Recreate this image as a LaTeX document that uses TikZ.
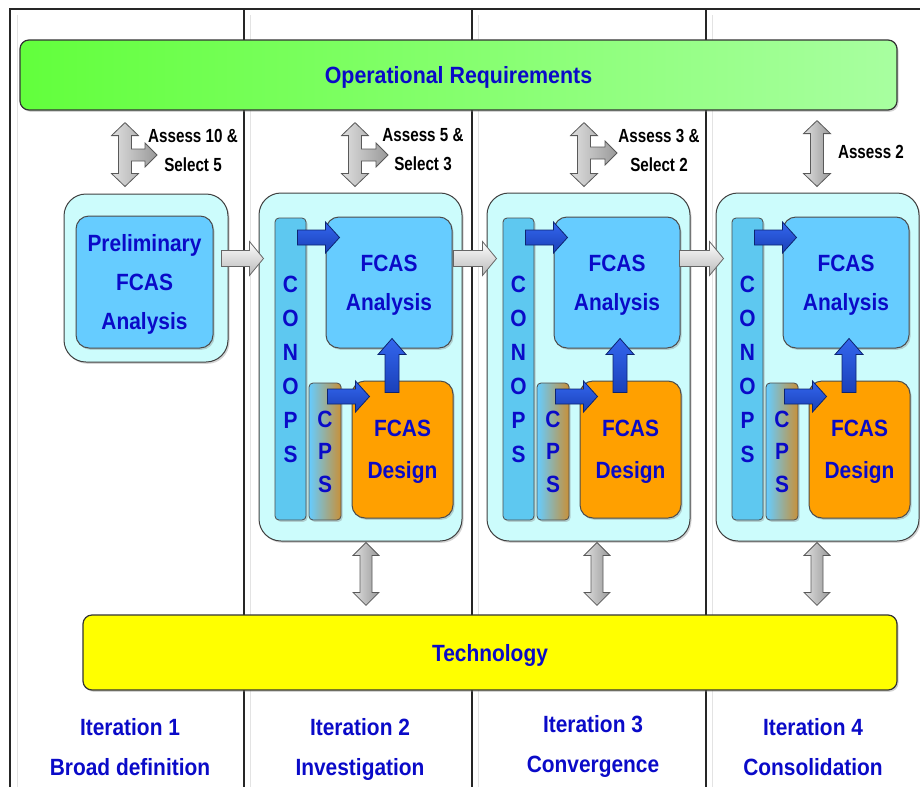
\documentclass[tikz,border=0pt]{standalone}
\usepackage{fontspec}
\setmainfont{Liberation Sans}
\newfontfamily\bluefont{Liberation Sans}[FakeStretch=0.89]
\newfontfamily\opfont{Liberation Sans}[FakeStretch=0.91]
\newfontfamily\narrowfont{Liberation Sans}[FakeStretch=0.8]
\usetikzlibrary{calc,shadows}
\definecolor{txtblue}{RGB}{10,10,200}
\definecolor{grpcyan}{HTML}{CCFCFC}
\definecolor{anablue}{HTML}{66CCFF}
\definecolor{conblue}{HTML}{5EC8F0}
\definecolor{desorange}{HTML}{FFA000}
\definecolor{cpsbrown}{HTML}{C89038}
\definecolor{greenL}{HTML}{62FF3C}
\definecolor{greenR}{HTML}{A8FFA0}
\definecolor{barYellow}{HTML}{FFFF00}
\definecolor{arrBlueT}{HTML}{3366EE}
\definecolor{arrBlueB}{HTML}{1A40B8}
\definecolor{arrBlueD}{HTML}{0C2470}
% rightward block arrow: style, from (x used), to (tip), body half, head half, head length
\newcommand\rblk[6]{\path[#1] let \p1=(#2), \p2=(#3) in
 (\x1,\y2+#4pt) -- (\x2-#6pt,\y2+#4pt) -- (\x2-#6pt,\y2+#5pt) -- (\x2,\y2) --
 (\x2-#6pt,\y2-#5pt) -- (\x2-#6pt,\y2-#4pt) -- (\x1,\y2-#4pt) -- cycle;}
% upward block arrow: style, from (bottom, y used), to (tip)
\newcommand\ublk[6]{\path[#1] let \p1=(#2), \p2=(#3) in
 (\x2-#4pt,\y1) -- (\x2-#4pt,\y2-#6pt) -- (\x2-#5pt,\y2-#6pt) -- (\x2,\y2) --
 (\x2+#5pt,\y2-#6pt) -- (\x2+#4pt,\y2-#6pt) -- (\x2+#4pt,\y1) -- cycle;}
% vertical double block arrow: style, top, bottom, body half, head half, head length
\newcommand\dblk[6]{\path[#1] let \p1=(#2), \p2=(#3) in
 (\x1,\y1) -- (\x1+#5pt,\y1-#6pt) -- (\x1+#4pt,\y1-#6pt) -- (\x1+#4pt,\y2+#6pt) --
 (\x1+#5pt,\y2+#6pt) -- (\x1,\y2) -- (\x1-#5pt,\y2+#6pt) -- (\x1-#4pt,\y2+#6pt) --
 (\x1-#4pt,\y1-#6pt) -- (\x1-#5pt,\y1-#6pt) -- cycle;}
% T-shaped arrow: style, top, bottom, branch tip
\newcommand\tblk[4]{\path[#1] let \p1=(#2), \p2=(#3), \p3=(#4) in
 (\x1,\y1) -- (\x1+13.5pt,\y1-13pt) -- (\x1+6.5pt,\y1-13pt) -- (\x1+6.5pt,\y3+6pt) --
 (\x3-12pt,\y3+6pt) -- (\x3-12pt,\y3+12pt) -- (\x3,\y3) -- (\x3-12pt,\y3-12pt) --
 (\x3-12pt,\y3-6pt) -- (\x1+6.5pt,\y3-6pt) -- (\x1+6.5pt,\y2+13pt) -- (\x1+13.5pt,\y2+13pt) --
 (\x1,\y2) -- (\x1-13.5pt,\y2+13pt) -- (\x1-6.5pt,\y2+13pt) -- (\x1-6.5pt,\y1-13pt) --
 (\x1-13.5pt,\y1-13pt) -- cycle;}
\begin{document}
\begin{tikzpicture}[x=1pt,y=-1pt,
 shd/.style={drop shadow={shadow xshift=1.5pt,shadow yshift=-1.8pt,opacity=0.35}},
 bar/.style={draw=black!80,line width=1.2pt,rounded corners=9pt,inner sep=0pt,shd},
 grp/.style={draw=black!75,line width=1pt,fill=grpcyan,rounded corners=22pt,inner sep=0pt,shd},
 inbox/.style={draw=black!70,line width=1pt,rounded corners=13pt,inner sep=0pt,shd},
 strip/.style={draw=black!70,line width=0.8pt,rounded corners=4pt,inner sep=0pt,shd},
 bluetxt/.style={text=txtblue,font=\bluefont\bfseries\fontsize{23.5}{39}\selectfont,align=center,text depth=0pt},
 lbl/.style={text=black,font=\narrowfont\bfseries\fontsize{19}{29}\selectfont,align=center},
 grayh/.style={draw=black!60,line width=0.8pt,top color=white,bottom color=gray!55},
 grayv/.style={draw=black!65,line width=0.8pt,left color=gray!25,right color=gray!80},
 bluea/.style={draw=arrBlueD,line width=0.8pt,top color=arrBlueT,bottom color=arrBlueB},
 divider/.style={line width=1.4pt,black!85},
 shadowline/.style={line width=1pt,gray!22}]
\useasboundingbox (0,0) rectangle (920,787);
% frame and column dividers
\foreach \xx in {17,250,478,712} \draw[shadowline] (\xx,15) -- (\xx,787);
\draw[divider] (10,787) -- (10,9) -- (920,9);
\foreach \xx in {244,472,706} \draw[divider] (\xx,9) -- (\xx,787);
% bars
\node[bar,left color=greenL,right color=greenR,minimum width=877pt,minimum height=70pt,
      text=txtblue,text depth=0pt,font=\opfont\bfseries\fontsize{23.5}{26}\selectfont] (opreq) at (458.5,75) {Operational Requirements};
\node[bar,fill=barYellow,minimum width=814pt,minimum height=75pt,
      text=txtblue,text depth=0pt,font=\bluefont\bfseries\fontsize{23.5}{26}\selectfont] (tech) at (490,652.5) {Technology};
% iteration 1
\node[grp,minimum width=164pt,minimum height=168pt] (g1) at (146,278) {};
\node[inbox,fill=anablue,minimum width=137pt,minimum height=132pt,bluetxt] (pre) at (144.5,282) {Preliminary\\FCAS\\Analysis};
% iterations 2-4
\foreach \i/\dx in {2/0,3/228,4/457}{
  \node[grp,minimum width=203pt,minimum height=348pt] (g\i) at (360.5+\dx,367) {};
  \node[strip,fill=conblue,minimum width=31pt,minimum height=302pt,bluetxt,
        font=\bluefont\bfseries\fontsize{23.5}{34}\selectfont] (con\i) at (290.5+\dx,369) {C\\O\\N\\O\\P\\S};
  \node[strip,left color=anablue,right color=cpsbrown,minimum width=32pt,minimum height=137pt,bluetxt,
        font=\bluefont\bfseries\fontsize{23.5}{32.5}\selectfont] (cps\i) at (325+\dx,451.5) {C\\P\\S};
  \node[inbox,fill=anablue,minimum width=126pt,minimum height=131pt,bluetxt] (ana\i) at (389+\dx,282.5) {FCAS\\Analysis};
  \node[inbox,fill=desorange,minimum width=101pt,minimum height=137pt,bluetxt,
        font=\bluefont\bfseries\fontsize{23.5}{42}\selectfont] (des\i) at (402.5+\dx,449.5) {FCAS\\Design};
  \rblk{bluea}{$(con\i.east)+(-9,0)$}{$(ana\i.north west)+(14,21)$}{7.5}{15.5}{14}
  \rblk{bluea}{$(cps\i.east)+(-14,0)$}{$(des\i.north west)+(18,16)$}{7.5}{15.5}{14}
  \ublk{bluea}{$(des\i.north)+(0,12)$}{$(ana\i.south)+(3,-10)$}{7}{14}{16}
}
% gray arrows between iterations
\rblk{grayh}{$(g1.east)+(-7,0)$}{$(g2.north west)+(5,66)$}{8}{17}{14}
\rblk{grayh}{$(g2.east)+(-9,0)$}{$(g3.north west)+(10,66)$}{8}{17}{14}
\rblk{grayh}{$(g3.east)+(-11,0)$}{$(g4.north west)+(8,66)$}{8}{17}{14}
% assess / select arrows
\coordinate (tip1) at (157,155);
\coordinate (tip2) at (388,155);
\coordinate (tip3) at (617,153);
\tblk{grayv}{$(125,0 |- opreq.south)+(0,12)$}{$(125,0 |- g1.north)+(0,-7)$}{tip1}
\tblk{grayv}{$(355,0 |- opreq.south)+(0,12)$}{$(355,0 |- g2.north)+(0,-6)$}{tip2}
\tblk{grayv}{$(584,0 |- opreq.south)+(0,12)$}{$(584,0 |- g3.north)+(0,-6)$}{tip3}
\dblk{grayv}{$(817,0 |- opreq.south)+(0,10)$}{$(817,0 |- g4.north)+(0,-6)$}{6.5}{13.5}{13}
% arrows to technology
\dblk{grayv}{$(366,0 |- g2.south)+(0,1)$}{$(366,0 |- tech.north)+(0,-9)$}{6}{13}{13}
\dblk{grayv}{$(597,0 |- g3.south)+(0,1)$}{$(597,0 |- tech.north)+(0,-9)$}{6}{13}{13}
\dblk{grayv}{$(817,0 |- g4.south)+(0,1)$}{$(817,0 |- tech.north)+(0,-9)$}{6}{13}{13}
% labels
\node[lbl] (as1) at (193,150) {Assess 10 \&\\Select 5};
\node[lbl] (as2) at (423,150) {Assess 5 \&\\Select 3};
\node[lbl] (as3) at (659,150) {Assess 3 \&\\Select 2};
\node[lbl] (as4) at (871,152) {Assess 2};
\node[bluetxt,font=\bluefont\bfseries\fontsize{23.5}{40}\selectfont] (it1) at (130,747) {Iteration 1\\Broad definition};
\node[bluetxt,font=\bluefont\bfseries\fontsize{23.5}{40}\selectfont] (it2) at (360,747) {Iteration 2\\Investigation};
\node[bluetxt,font=\bluefont\bfseries\fontsize{23.5}{40}\selectfont] (it3) at (593,744) {Iteration 3\\Convergence};
\node[bluetxt,font=\bluefont\bfseries\fontsize{23.5}{40}\selectfont] (it4) at (813,747) {Iteration 4\\Consolidation};
\end{tikzpicture}
\end{document}
